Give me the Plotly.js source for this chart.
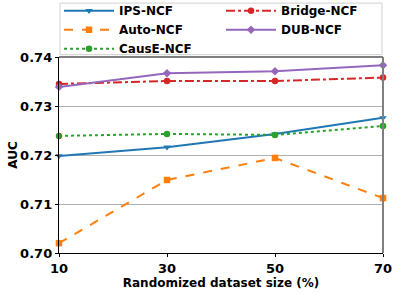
<!DOCTYPE html>
<html>
<head>
<script src="https://cdn.plot.ly/plotly-3.0.1.min.js"></script>
<style>html,body{margin:0;padding:0;background:#fff;}#chart{width:399px;height:294px;}</style>
</head>
<body>
<div id="chart"></div>
<script>
var sizes = [10, 30, 50, 70];
var ipsNCF = [0.7198, 0.7216, 0.7243, 0.7276];
var autoNCF = [0.7020, 0.7149, 0.7194, 0.7112];
var causeNCF = [0.7239, 0.7243, 0.7241, 0.7259];
var bridgeNCF = [0.7345, 0.7351, 0.7351, 0.7358];
var dubNCF = [0.7339, 0.7367, 0.7371, 0.7383];
var yTicks = [0.70, 0.71, 0.72, 0.73, 0.74];

function tr(name, y, color, dash, symbol, rank) {
  return {x: sizes, y: y, name: name, type: 'scatter', mode: 'lines+markers',
    line: {color: color, width: 2, dash: dash},
    marker: {color: color, symbol: symbol, size: 6.5},
    legendrank: rank, cliponaxis: false};
}
var data = [
  tr('IPS-NCF', ipsNCF, '#1f77b4', 'solid', 'triangle-down', 1),
  tr('Auto-NCF', autoNCF, '#ff7f0e', 'dash', 'square', 3),
  tr('CausE-NCF', causeNCF, '#2ca02c', 'dot', 'circle', 5),
  tr('Bridge-NCF', bridgeNCF, '#d62728', 'dashdot', 'circle', 2),
  tr('DUB-NCF', dubNCF, '#9467bd', 'solid', 'diamond', 4)
];
var font = {family: 'DejaVu Sans', size: 13, color: '#000', weight: 'bold'};
var layout = {
  width: 399, height: 294,
  margin: {l: 59, r: 16, t: 57, b: 41, autoexpand: false},
  paper_bgcolor: '#fff', plot_bgcolor: '#fff',
  font: font,
  showlegend: true,
  legend: {orientation: 'h', x: 0, xanchor: 'left',
    y: 1.31, yanchor: 'top',
    entrywidth: 0.5, entrywidthmode: 'fraction', itemwidth: 50,
    bgcolor: 'rgba(255,255,255,0)', borderwidth: 0,
    font: {family: 'DejaVu Sans', size: 12, color: '#000', weight: 'bold'},
    tracegroupgap: 0, traceorder: 'normal'},
  xaxis: {range: [10, 70], tickvals: sizes, ticktext: sizes.map(String),
    showgrid: false, zeroline: false, showline: true, linecolor: '#000', linewidth: 1.2,
    ticks: 'outside', ticklen: 3, tickcolor: '#000',
    tickfont: {family: 'DejaVu Sans', size: 13, weight: 'bold'},
    title: {text: 'Randomized dataset size (%)', standoff: 1,
      font: {family: 'DejaVu Sans', size: 12, weight: 'bold'}}},
  yaxis: {range: [0.70, 0.74], tickvals: yTicks, tickformat: '.2f',
    showgrid: true, gridcolor: '#b0b0b0', gridwidth: 1, zeroline: false,
    showline: true, linecolor: '#000', linewidth: 1.2,
    ticks: 'outside', ticklen: 3, tickcolor: '#000',
    tickfont: {family: 'DejaVu Sans', size: 13, weight: 'bold'},
    title: {text: 'AUC', standoff: 0,
      font: {family: 'DejaVu Sans', size: 12, weight: 'bold'}}},
  shapes: [
    {type: 'rect', xref: 'paper', yref: 'paper', x0: 0.003, x1: 0.997, y0: 1.012, y1: 1.275,
      line: {color: '#d0d0d0', width: 1}, fillcolor: 'rgba(0,0,0,0)', layer: 'below'},
    {type: 'line', xref: 'paper', yref: 'paper', x0: 0, x1: 1, y0: 1, y1: 1, line: {color: '#808080', width: 2}},
    {type: 'line', xref: 'paper', yref: 'paper', x0: 1, x1: 1, y0: 0, y1: 1, line: {color: '#808080', width: 2}}
  ]
};
Plotly.newPlot('chart', data, layout, {displayModeBar: false, staticPlot: true});
</script>
</body>
</html>
